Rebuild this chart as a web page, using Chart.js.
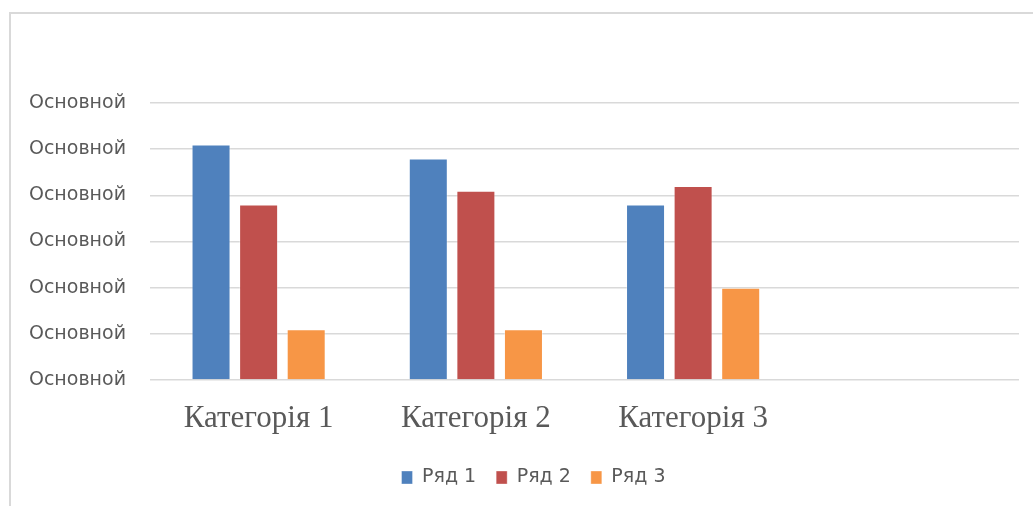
<!DOCTYPE html>
<html>
<head>
<meta charset="utf-8">
<script src="https://cdn.jsdelivr.net/npm/chart.js@4/dist/chart.umd.min.js"></script>
<style>
  html, body { margin: 0; padding: 0; background: #fff; }
  #frame {
    position: absolute; left: 9px; top: 12px; width: 1030px; height: 500px;
    border-top: 2px solid #d9d9d9; border-left: 2px solid #d9d9d9;
  }
  #wrap { position: absolute; left: 0; top: 0; width: 1033px; height: 506px; }
</style>
</head>
<body>
<div id="frame"></div>
<div id="wrap"><canvas id="chart"></canvas></div>
<script>
const categories = ['Категорія 1', 'Категорія 2', 'Категорія 3', ''];
const series1 = [5.1, 4.8, 3.8, null];
const series2 = [3.8, 4.1, 4.2, null];
const series3 = [1.1, 1.1, 2.0, null];
const seriesNames = ['Ряд 1', 'Ряд 2', 'Ряд 3'];
const yTickText = 'Основной';

const colors = ['#4f81bd', '#c0504d', '#f79646'];

function bars(label, data, color) {
  return {
    label,
    data,
    backgroundColor: color,
    borderColor: 'rgba(255,255,255,0.35)',
    borderWidth: 1,
    categoryPercentage: 0.657,
    barPercentage: 0.82
  };
}

// legend sits a bit right of centre in the original
const legendShift = {
  id: 'legendShift',
  afterLayout(chart) {
    const lg = chart.legend;
    if (!lg) return;
    lg.left += 24;
    lg.right += 24;
    if (lg.legendHitBoxes) lg.legendHitBoxes.forEach(b => { b.left += 24; });
  }
};

const ctx = document.getElementById('chart').getContext('2d');
new Chart(ctx, {
  type: 'bar',
  data: {
    labels: categories,
    datasets: [
      bars(seriesNames[0], series1, colors[0]),
      bars(seriesNames[1], series2, colors[1]),
      bars(seriesNames[2], series3, colors[2])
    ]
  },
  options: {
    responsive: true,
    maintainAspectRatio: false,
    animation: false,
    layout: { padding: { top: 103, right: 14, left: 0, bottom: 9 } },
    scales: {
      x: {
        grid: { display: false },
        border: { display: false },
        ticks: {
          color: '#595959',
          padding: 12,
          font: { family: 'Liberation Serif', size: 31 }
        },
        afterFit: s => { s.height = 68; }
      },
      y: {
        min: 0,
        max: 6,
        grid: { color: '#d9d9d9', lineWidth: 1.5, drawTicks: false },
        border: { display: false },
        ticks: {
          stepSize: 1,
          color: '#595959',
          padding: 24,
          font: { family: 'DejaVu Sans', size: 19 },
          callback: () => yTickText
        },
        afterFit: s => { s.width = 150; }
      }
    },
    plugins: {
      legend: {
        position: 'bottom',
        labels: {
          color: '#595959',
          boxWidth: 11,
          boxHeight: 13,
          padding: 20,
          font: { family: 'DejaVu Sans', size: 19 }
        }
      },
      tooltip: { enabled: false }
    }
  },
  plugins: [legendShift]
});
</script>
</body>
</html>
